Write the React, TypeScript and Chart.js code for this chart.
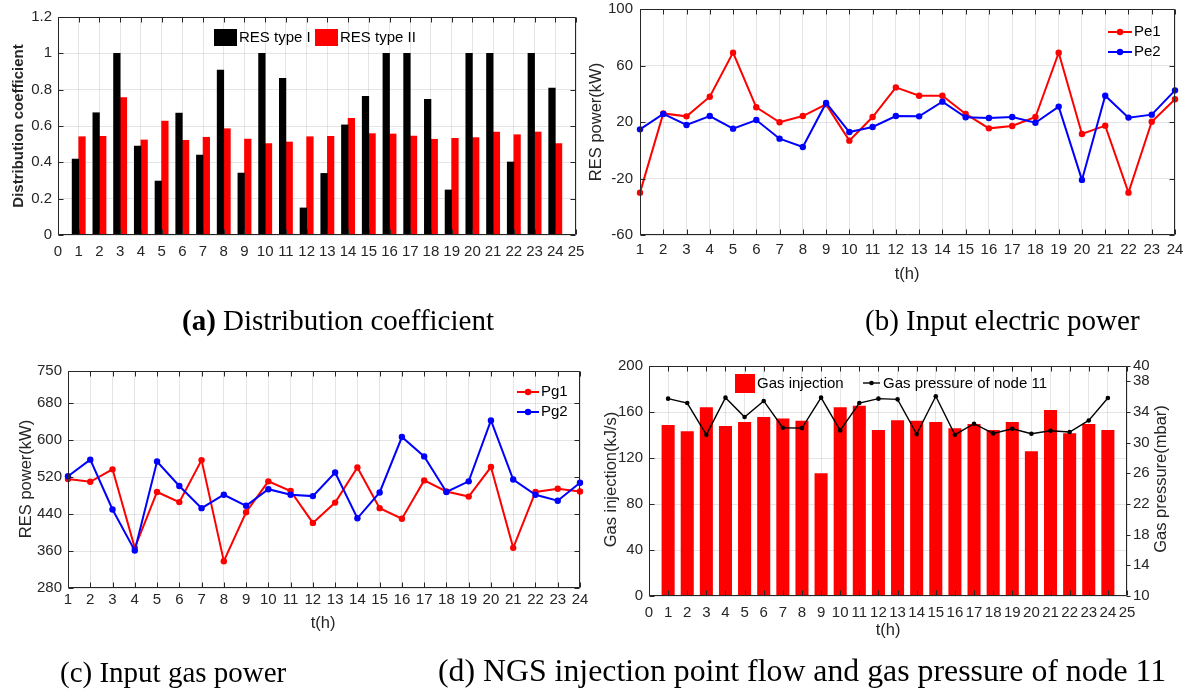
import React, { useEffect, useRef } from 'react';
import { Chart, registerables } from 'chart.js';

Chart.register(...registerables);

const PAGE_W = 1187;
const PAGE_H = 691;

// ---------- tick labels ----------
const HOURS_0_25 = ['0', '1', '2', '3', '4', '5', '6', '7', '8', '9', '10', '11', '12', '13', '14', '15', '16', '17', '18', '19', '20', '21', '22', '23', '24', '25'];
const HOURS_1_24 = ['1', '2', '3', '4', '5', '6', '7', '8', '9', '10', '11', '12', '13', '14', '15', '16', '17', '18', '19', '20', '21', '22', '23', '24'];

const Y_TICKS_A = [0, 0.2, 0.4, 0.6, 0.8, 1, 1.2];
const Y_TICKS_B = [-60, -20, 20, 60, 100];
const Y_TICKS_C = [280, 360, 440, 520, 600, 680, 750];
const Y_TICKS_D_LEFT = [0, 40, 80, 120, 160, 200];
const Y_TICKS_D_RIGHT = [10, 14, 18, 22, 26, 30, 34, 38, 40];

// ---------- series (hours 1..24) ----------
const resTypeI = [0.418, 0.673, 1.0, 0.49, 0.297, 0.671, 0.44, 0.908, 0.341, 1.0, 0.862, 0.149, 0.339, 0.606, 0.763, 1.0, 1.0, 0.747, 0.248, 1.0, 1.0, 0.402, 1.0, 0.809];
const resTypeII = [0.541, 0.543, 0.756, 0.523, 0.627, 0.521, 0.538, 0.585, 0.528, 0.503, 0.512, 0.541, 0.543, 0.642, 0.558, 0.556, 0.545, 0.527, 0.532, 0.536, 0.567, 0.552, 0.567, 0.503];

const pe1 = [-30, 26.1, 24, 37.9, 69.1, 30.4, 19.8, 24.2, 32.5, 6.8, 23.5, 44.5, 38.6, 38.6, 25.7, 15.5, 17.2, 23.5, 69.1, 11.5, 17.4, -30, 20.2, 36.1];
const pe2 = [14.8, 25.7, 17.9, 24.2, 15.3, 21.4, 8.2, 2.3, 33.5, 12.9, 16.5, 24.2, 24, 34.4, 23.3, 22.8, 23.5, 19.5, 30.9, -21, 38.6, 23.1, 25.2, 42.4];

const pg1 = [516, 510, 537, 367, 488, 466, 557, 338, 444, 511, 490, 421, 465, 541, 453, 430, 513, 489, 478, 542, 367, 488, 495, 489];
const pg2 = [522, 558, 450, 361, 554, 501, 453, 482, 458, 494, 482, 479, 530, 431, 487, 607, 565, 488, 511, 643, 515, 482, 469, 508];

const gasInjection = [148.4, 143, 163.8, 147.6, 151, 155.4, 154, 152.2, 106.5, 163.8, 165.2, 144, 152.5, 152, 151, 145.5, 149.3, 144, 151, 125.6, 161.5, 141.2, 149.3, 144];
const gasPressure = [35.74, 35.17, 31.04, 35.87, 33.35, 35.44, 31.95, 31.9, 35.87, 31.6, 35.17, 35.74, 35.65, 31.12, 36.05, 31.04, 32.47, 31.21, 31.82, 31.17, 31.56, 31.39, 32.9, 35.83];

// ---------- styles ----------
const SANS = "'Liberation Sans', Arial, Helvetica, sans-serif";
const SERIF = "'Liberation Serif', 'Times New Roman', serif";
const AXIS_COLOR = '#262626';
const GRID_COLOR = 'rgba(0,0,0,0.1)';
const RED = '#ff0000';
const BLUE = '#0000ff';
const BLACK = '#000000';

const YW = 50;
const XH = 40;
const YW2 = 40;

type Area = { l: number; t: number; r: number; b: number };

// hours 0..25 axis: pad the 24 hourly values with empty slots at 0 and 25
const padHours = (arr: number[]) => [null, ...arr, null];

function layoutPadding(a: Area, right = false) {
  return {
    left: a.l - YW,
    top: a.t,
    right: PAGE_W - a.r - (right ? YW2 : 0),
    bottom: PAGE_H - a.b - XH,
  };
}

function zeroPad(s: any) {
  s.paddingTop = 0;
  s.paddingBottom = 0;
  s.paddingLeft = 0;
  s.paddingRight = 0;
}
const fixWidth = (w: number) => (s: any) => {
  s.width = w;
  zeroPad(s);
};
const fixHeight = (h: number) => (s: any) => {
  s.height = h;
  zeroPad(s);
};
const setTicks = (vals: number[]) => (s: any) => {
  s.ticks = vals.map((v) => ({ value: v }));
};

const tickFont = { family: SANS, size: 15 };

function xCategory(padding: number) {
  return {
    type: 'category',
    offset: false,
    grid: { color: GRID_COLOR, drawTicks: false, offset: false, lineWidth: 1 },
    border: { display: false },
    ticks: {
      autoSkip: false,
      maxRotation: 0,
      minRotation: 0,
      padding,
      color: AXIS_COLOR,
      font: tickFont,
    },
    afterFit: fixHeight(XH),
  };
}

function yLinear(min: number, max: number, ticks: number[], opts: any = {}) {
  const right = opts.position === 'right';
  return {
    type: 'linear',
    position: right ? 'right' : 'left',
    min,
    max,
    grid: { color: GRID_COLOR, drawTicks: false, display: !right },
    border: { display: false },
    ticks: {
      autoSkip: false,
      padding: opts.padding ?? 6,
      color: AXIS_COLOR,
      font: tickFont,
      callback: (v: any) => String(Math.round(Number(v) * 10) / 10),
    },
    afterBuildTicks: setTicks(ticks),
    afterFit: fixWidth(right ? YW2 : YW),
  };
}

function drawText(ctx: CanvasRenderingContext2D, s: string, x: number, y: number, font: string, align: CanvasTextAlign = 'center', rot = 0, color = AXIS_COLOR) {
  ctx.save();
  ctx.translate(x, y);
  ctx.rotate(rot);
  ctx.font = font;
  ctx.fillStyle = color;
  ctx.textAlign = align;
  ctx.textBaseline = 'middle';
  ctx.fillText(s, 0, 0);
  ctx.restore();
}

function lineMarker(ctx: CanvasRenderingContext2D, x1: number, x2: number, y: number, color: string, lw: number, r: number) {
  ctx.save();
  ctx.strokeStyle = color;
  ctx.fillStyle = color;
  ctx.lineWidth = lw;
  ctx.beginPath();
  ctx.moveTo(x1, y);
  ctx.lineTo(x2, y);
  ctx.stroke();
  ctx.beginPath();
  ctx.arc((x1 + x2) / 2, y, r, 0, Math.PI * 2);
  ctx.fill();
  ctx.restore();
}

// Frame + inward (MATLAB-like) tick marks
function framePlugin(rightAxisId: string | null, extra: (ctx: CanvasRenderingContext2D) => void) {
  return {
    id: 'matlabFrame',
    afterDatasetsDraw(chart: any) {
      const ctx: CanvasRenderingContext2D = chart.ctx;
      const a = chart.chartArea;
      const L = 5;
      ctx.save();
      ctx.strokeStyle = AXIS_COLOR;
      ctx.lineWidth = 1;
      const l = Math.round(a.left) + 0.5;
      const r = Math.round(a.right) - 0.5;
      const t = Math.round(a.top) + 0.5;
      const b = Math.round(a.bottom) - 0.5;
      ctx.beginPath();
      ctx.rect(l, t, r - l, b - t);
      const xs = chart.scales.x;
      xs.ticks.forEach((_: any, i: number) => {
        const px = Math.round(xs.getPixelForTick(i)) + 0.5;
        ctx.moveTo(px, b);
        ctx.lineTo(px, b - L);
        ctx.moveTo(px, t);
        ctx.lineTo(px, t + L);
      });
      const ys = chart.scales.y;
      ys.ticks.forEach((_: any, i: number) => {
        const py = Math.round(ys.getPixelForTick(i)) + 0.5;
        ctx.moveTo(l, py);
        ctx.lineTo(l + L, py);
        if (!rightAxisId) {
          ctx.moveTo(r, py);
          ctx.lineTo(r - L, py);
        }
      });
      if (rightAxisId) {
        const ys2 = chart.scales[rightAxisId];
        ys2.ticks.forEach((_: any, i: number) => {
          const py = Math.round(ys2.getPixelForTick(i)) + 0.5;
          ctx.moveTo(r, py);
          ctx.lineTo(r + 4, py);
        });
      }
      ctx.stroke();
      ctx.restore();
    },
    afterDraw(chart: any) {
      extra(chart.ctx);
    },
  };
}

const TITLE_FONT = `16.5px ${SANS}`;
const LEGEND_FONT = `15px ${SANS}`;

function baseOptions(area: Area, right = false) {
  return {
    animation: false,
    responsive: false,
    events: [],
    layout: { padding: layoutPadding(area, right) },
    plugins: { legend: { display: false }, tooltip: { enabled: false }, title: { display: false } },
  };
}

// ---------- Panel (a) ----------
const AREA_A: Area = { l: 58, t: 17, r: 576, b: 235 };
function configA(): any {
  return {
    type: 'bar',
    data: {
      labels: HOURS_0_25,
      datasets: [
        { label: 'RES type I', data: padHours(resTypeI), backgroundColor: BLACK, barThickness: 6.6 },
        { label: 'RES type II', data: padHours(resTypeII), backgroundColor: RED, barThickness: 6.6 },
      ],
    },
    options: {
      ...baseOptions(AREA_A),
      scales: {
        x: xCategory(8),
        y: yLinear(0, 1.2, Y_TICKS_A, { padding: 6 }),
      },
    },
    plugins: [
      framePlugin(null, (ctx) => {
        drawText(ctx, 'Distribution coefficient', 18.5, 126, `bold 15px ${SANS}`, 'center', -Math.PI / 2);
        ctx.fillStyle = BLACK;
        ctx.fillRect(214, 29, 23, 17);
        drawText(ctx, 'RES type I', 239, 38, LEGEND_FONT, 'left', 0, '#000');
        ctx.fillStyle = RED;
        ctx.fillRect(315, 29, 23, 17);
        drawText(ctx, 'RES type II', 340, 38, LEGEND_FONT, 'left', 0, '#000');
      }),
    ],
  };
}

// ---------- Panel (b) ----------
const AREA_B: Area = { l: 640, t: 9, r: 1175, b: 235 };
function configB(): any {
  return {
    type: 'line',
    data: {
      labels: HOURS_1_24,
      datasets: [
        { label: 'Pe1', data: pe1, borderColor: RED, backgroundColor: RED, borderWidth: 2, pointRadius: 3.2, pointBorderWidth: 0, pointBackgroundColor: RED, tension: 0, order: 1 },
        { label: 'Pe2', data: pe2, borderColor: BLUE, backgroundColor: BLUE, borderWidth: 2, pointRadius: 3.2, pointBorderWidth: 0, pointBackgroundColor: BLUE, tension: 0, order: 0 },
      ],
    },
    options: {
      ...baseOptions(AREA_B),
      scales: {
        x: xCategory(5.5),
        y: yLinear(-60, 100, Y_TICKS_B, { padding: 7 }),
      },
    },
    plugins: [
      framePlugin(null, (ctx) => {
        drawText(ctx, 'RES power(kW)', 596, 122, TITLE_FONT, 'center', -Math.PI / 2);
        drawText(ctx, 't(h)', 907, 274, TITLE_FONT);
        lineMarker(ctx, 1108, 1132, 32, RED, 2, 3.2);
        drawText(ctx, 'Pe1', 1134, 32, LEGEND_FONT, 'left', 0, '#000');
        lineMarker(ctx, 1108, 1132, 52, BLUE, 2, 3.2);
        drawText(ctx, 'Pe2', 1134, 52, LEGEND_FONT, 'left', 0, '#000');
      }),
    ],
  };
}

// ---------- Panel (c) ----------
const AREA_C: Area = { l: 68, t: 371, r: 580, b: 588 };
function configC(): any {
  return {
    type: 'line',
    data: {
      labels: HOURS_1_24,
      datasets: [
        { label: 'Pg1', data: pg1, borderColor: RED, backgroundColor: RED, borderWidth: 2, pointRadius: 3.2, pointBorderWidth: 0, pointBackgroundColor: RED, tension: 0, order: 1 },
        { label: 'Pg2', data: pg2, borderColor: BLUE, backgroundColor: BLUE, borderWidth: 2, pointRadius: 3.2, pointBorderWidth: 0, pointBackgroundColor: BLUE, tension: 0, order: 0 },
      ],
    },
    options: {
      ...baseOptions(AREA_C),
      scales: {
        x: xCategory(3),
        y: yLinear(280, 750, Y_TICKS_C, { padding: 6 }),
      },
    },
    plugins: [
      framePlugin(null, (ctx) => {
        drawText(ctx, 'RES power(kW)', 26, 479, TITLE_FONT, 'center', -Math.PI / 2);
        drawText(ctx, 't(h)', 323, 623.5, TITLE_FONT);
        lineMarker(ctx, 517, 539, 392, RED, 2, 3.2);
        drawText(ctx, 'Pg1', 541, 392, LEGEND_FONT, 'left', 0, '#000');
        lineMarker(ctx, 517, 539, 412, BLUE, 2, 3.2);
        drawText(ctx, 'Pg2', 541, 412, LEGEND_FONT, 'left', 0, '#000');
      }),
    ],
  };
}

// ---------- Panel (d) ----------
const AREA_D: Area = { l: 649, t: 366, r: 1127, b: 596 };
function configD(): any {
  return {
    type: 'bar',
    data: {
      labels: HOURS_0_25,
      datasets: [
        { type: 'line', label: 'Gas pressure of node 11', data: padHours(gasPressure), yAxisID: 'y1', borderColor: BLACK, backgroundColor: BLACK, borderWidth: 1.4, pointRadius: 2.3, pointBorderWidth: 0, pointBackgroundColor: BLACK, tension: 0, order: 0 },
        { type: 'bar', label: 'Gas injection', data: padHours(gasInjection), yAxisID: 'y', backgroundColor: RED, barThickness: 12.4, order: 1 },
      ],
    },
    options: {
      ...baseOptions(AREA_D, true),
      scales: {
        x: xCategory(8),
        y: yLinear(0, 200, Y_TICKS_D_LEFT, { padding: 6 }),
        y1: yLinear(10, 40, Y_TICKS_D_RIGHT, { padding: 6, position: 'right' }),
      },
    },
    plugins: [
      framePlugin('y1', (ctx) => {
        drawText(ctx, 'Gas injection(kJ/s)', 611, 479.5, TITLE_FONT, 'center', -Math.PI / 2);
        drawText(ctx, 'Gas pressure(mbar)', 1161, 479, TITLE_FONT, 'center', -Math.PI / 2);
        drawText(ctx, 't(h)', 888, 630, TITLE_FONT);
        ctx.fillStyle = RED;
        ctx.fillRect(735, 374, 20, 19);
        drawText(ctx, 'Gas injection', 757, 384, LEGEND_FONT, 'left', 0, '#000');
        lineMarker(ctx, 863, 880, 383, BLACK, 1.4, 2.3);
        drawText(ctx, 'Gas pressure of node 11', 883, 384, LEGEND_FONT, 'left', 0, '#000');
      }),
    ],
  };
}

function ChartLayer({ makeConfig }: { makeConfig: () => any }) {
  const ref = useRef<HTMLCanvasElement | null>(null);
  useEffect(() => {
    if (!ref.current) return;
    const chart = new Chart(ref.current, makeConfig());
    return () => chart.destroy();
  }, [makeConfig]);
  return (
    <canvas
      ref={ref}
      width={PAGE_W}
      height={PAGE_H}
      style={{ position: 'absolute', left: 0, top: 0, width: PAGE_W, height: PAGE_H }}
    />
  );
}

const captionStyle = (left: number, baseline: number, size = 29): React.CSSProperties => ({
  position: 'absolute',
  left,
  top: baseline - 0.8375 * size,
  fontFamily: SERIF,
  fontSize: size,
  lineHeight: `${size}px`,
  whiteSpace: 'nowrap',
  color: '#000',
});

export default function App() {
  return (
    <div style={{ position: 'fixed', left: 0, top: 0, width: PAGE_W, height: PAGE_H, background: '#fff', overflow: 'hidden' }}>
      <ChartLayer makeConfig={configA} />
      <ChartLayer makeConfig={configB} />
      <ChartLayer makeConfig={configC} />
      <ChartLayer makeConfig={configD} />
      <div style={captionStyle(182, 330)}>
        <b>(a)</b> Distribution coefficient
      </div>
      <div style={captionStyle(865, 330)}>(b) Input electric power</div>
      <div style={captionStyle(60, 682)}>(c) Input gas power</div>
      <div style={captionStyle(438, 682, 31.8)}>(d) NGS injection point flow and gas pressure of node 11</div>
    </div>
  );
}
